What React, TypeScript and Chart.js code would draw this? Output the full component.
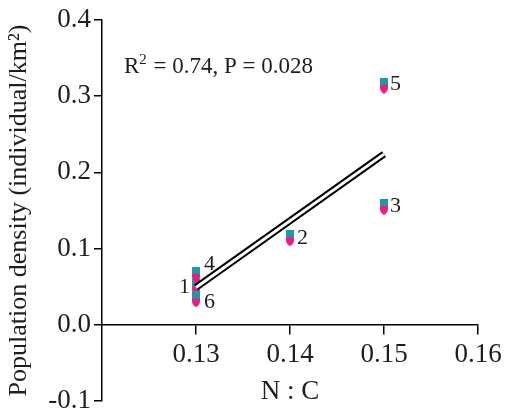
import React, { useEffect, useRef } from "react";
import { Chart, registerables } from "chart.js";

Chart.register(...registerables);

// ---- data ----
const siteLabels = ["1", "2", "3", "4", "5", "6"];
const ncRatio = [0.13, 0.14, 0.15, 0.13, 0.15, 0.13];
const density = [0.05, 0.114, 0.155, 0.066, 0.314, 0.034];
const fitX = [0.13, 0.15];
const fitY = [0.049, 0.224];
const xTicks = [0.13, 0.14, 0.15, 0.16];
const yTicks = [-0.1, 0, 0.1, 0.2, 0.3, 0.4];
const r2Value = "0.74";
const pValue = "0.028";

// ---- style ----
const SERIF = '"Liberation Serif", "Times New Roman", Times, serif';
const TEAL = "#1f98ab";
const PINK = "#f2197f";
const INK = "#1e1e1e";
// label placement relative to each point: [dx, dy, align]
const labelOffsets: [number, number, CanvasTextAlign][] = [
  [-6, 1, "right"],
  [7, 0, "left"],
  [6, 0, "left"],
  [8, -10, "left"],
  [6, -1, "left"],
  [8, 3, "left"],
];

function makeMarker(): HTMLCanvasElement {
  const c = document.createElement("canvas");
  c.width = 8;
  c.height = 16;
  const g = c.getContext("2d")!;
  g.fillStyle = PINK;
  g.beginPath();
  g.moveTo(0, 7);
  g.lineTo(8, 7);
  g.lineTo(8, 10);
  g.quadraticCurveTo(8, 14, 4, 16);
  g.quadraticCurveTo(0, 14, 0, 10);
  g.closePath();
  g.fill();
  g.fillStyle = TEAL;
  g.fillRect(0, 0, 8, 7.5);
  return c;
}

const annotPlugin = {
  id: "annot",
  afterDatasetsDraw(chart: any) {
    const ctx = chart.ctx as CanvasRenderingContext2D;
    const meta = chart.getDatasetMeta(2);
    ctx.save();
    ctx.fillStyle = INK;
    ctx.font = `22px ${SERIF}`;
    ctx.textBaseline = "middle";
    meta.data.forEach((el: any, i: number) => {
      const [dx, dy, align] = labelOffsets[i];
      ctx.textAlign = align;
      ctx.fillText(siteLabels[i], el.x + dx, el.y + dy);
    });
    // statistics text
    const { left, top } = chart.chartArea;
    let x = left + 22;
    const y = top + 53;
    ctx.textAlign = "left";
    ctx.textBaseline = "alphabetic";
    ctx.font = `23px ${SERIF}`;
    ctx.fillText("R", x, y);
    x += ctx.measureText("R").width;
    ctx.font = `15px ${SERIF}`;
    ctx.fillText("2", x, y - 9);
    x += ctx.measureText("2").width + 1;
    ctx.font = `23px ${SERIF}`;
    ctx.fillText(` = ${r2Value}, P = ${pValue}`, x, y);
    ctx.restore();
  },
};

export default function App() {
  const ref = useRef<HTMLCanvasElement>(null);
  useEffect(() => {
    let chart: Chart | null = null;
    let cancelled = false;
    const build = () => {
      if (cancelled || !ref.current) return;
      const marker = makeMarker();
      const points = ncRatio.map((x, i) => ({ x, y: density[i] }));
      const fit = fitX.map((x, i) => ({ x, y: fitY[i] }));
      chart = new Chart(ref.current, {
        type: "scatter",
        data: {
          datasets: [
            {
              data: fit,
              showLine: true,
              borderColor: "#ffffff",
              borderWidth: 3,
              pointRadius: 0,
              borderCapStyle: "butt",
            } as any,
            {
              data: fit,
              showLine: true,
              borderColor: "#000000",
              borderWidth: 7,
              pointRadius: 0,
              borderCapStyle: "butt",
            } as any,
            {
              data: points,
              pointStyle: marker,
              pointRadius: 5,
              showLine: false,
            } as any,
          ],
        },
        options: {
          animation: false,
          responsive: true,
          maintainAspectRatio: false,
          layout: { padding: { top: 20, bottom: 7, left: 0, right: 27 } },
          plugins: {
            legend: { display: false },
            tooltip: { enabled: false },
          },
          scales: {
            x: {
              type: "linear",
              min: 0.12,
              max: 0.16,
              position: { y: 0 } as any,
              afterBuildTicks: (s: any) => {
                s.ticks = xTicks.map((v) => ({ value: v }));
              },
              afterFit: (s: any) => {
                s.paddingLeft = 0;
                s.paddingRight = 0;
              },
              grid: {
                drawOnChartArea: false,
                drawTicks: true,
                tickLength: 9,
                color: "#000",
                lineWidth: 1.5,
              },
              border: { display: true, color: "#000", width: 1.5 },
              ticks: {
                color: INK,
                font: { family: SERIF, size: 27 },
                padding: 5,
                maxRotation: 0,
                autoSkip: false,
                callback: (v: any) => Number(v).toFixed(2),
              },
              title: {
                display: true,
                text: "N : C",
                color: INK,
                font: { family: SERIF, size: 27 },
                padding: { top: 0, bottom: 0 },
              },
            },
            y: {
              type: "linear",
              min: -0.1,
              max: 0.4,
              position: "left",
              afterBuildTicks: (s: any) => {
                s.ticks = yTicks.map((v) => ({ value: v }));
              },
              afterFit: (s: any) => {
                s.width = 102;
                s.paddingTop = 0;
                s.paddingBottom = 0;
              },
              grid: {
                drawOnChartArea: false,
                drawTicks: true,
                tickLength: 8,
                color: "#000",
                lineWidth: 1.5,
              },
              border: { display: true, color: "#000", width: 1.5 },
              ticks: {
                color: INK,
                font: { family: SERIF, size: 27 },
                padding: 3,
                autoSkip: false,
                callback: (v: any) => Number(v).toFixed(1),
              },
              title: {
                display: true,
                text: "Population density (individual/km²)",
                color: INK,
                font: { family: SERIF, size: 26 },
                padding: { top: 4, bottom: 0 },
              },
            },
          },
        },
        plugins: [annotPlugin],
      });
    };
    const fonts: any = (document as any).fonts;
    if (fonts && fonts.load) {
      Promise.all([
        fonts.load(`27px "Liberation Serif"`),
        fonts.load(`15px "Liberation Serif"`),
      ])
        .catch(() => null)
        .then(build);
    } else {
      build();
    }
    return () => {
      cancelled = true;
      if (chart) chart.destroy();
    };
  }, []);
  return (
    <div style={{ position: "fixed", left: 0, top: 0, width: 505, height: 408, background: "#fff" }}>
      <canvas ref={ref} />
    </div>
  );
}
